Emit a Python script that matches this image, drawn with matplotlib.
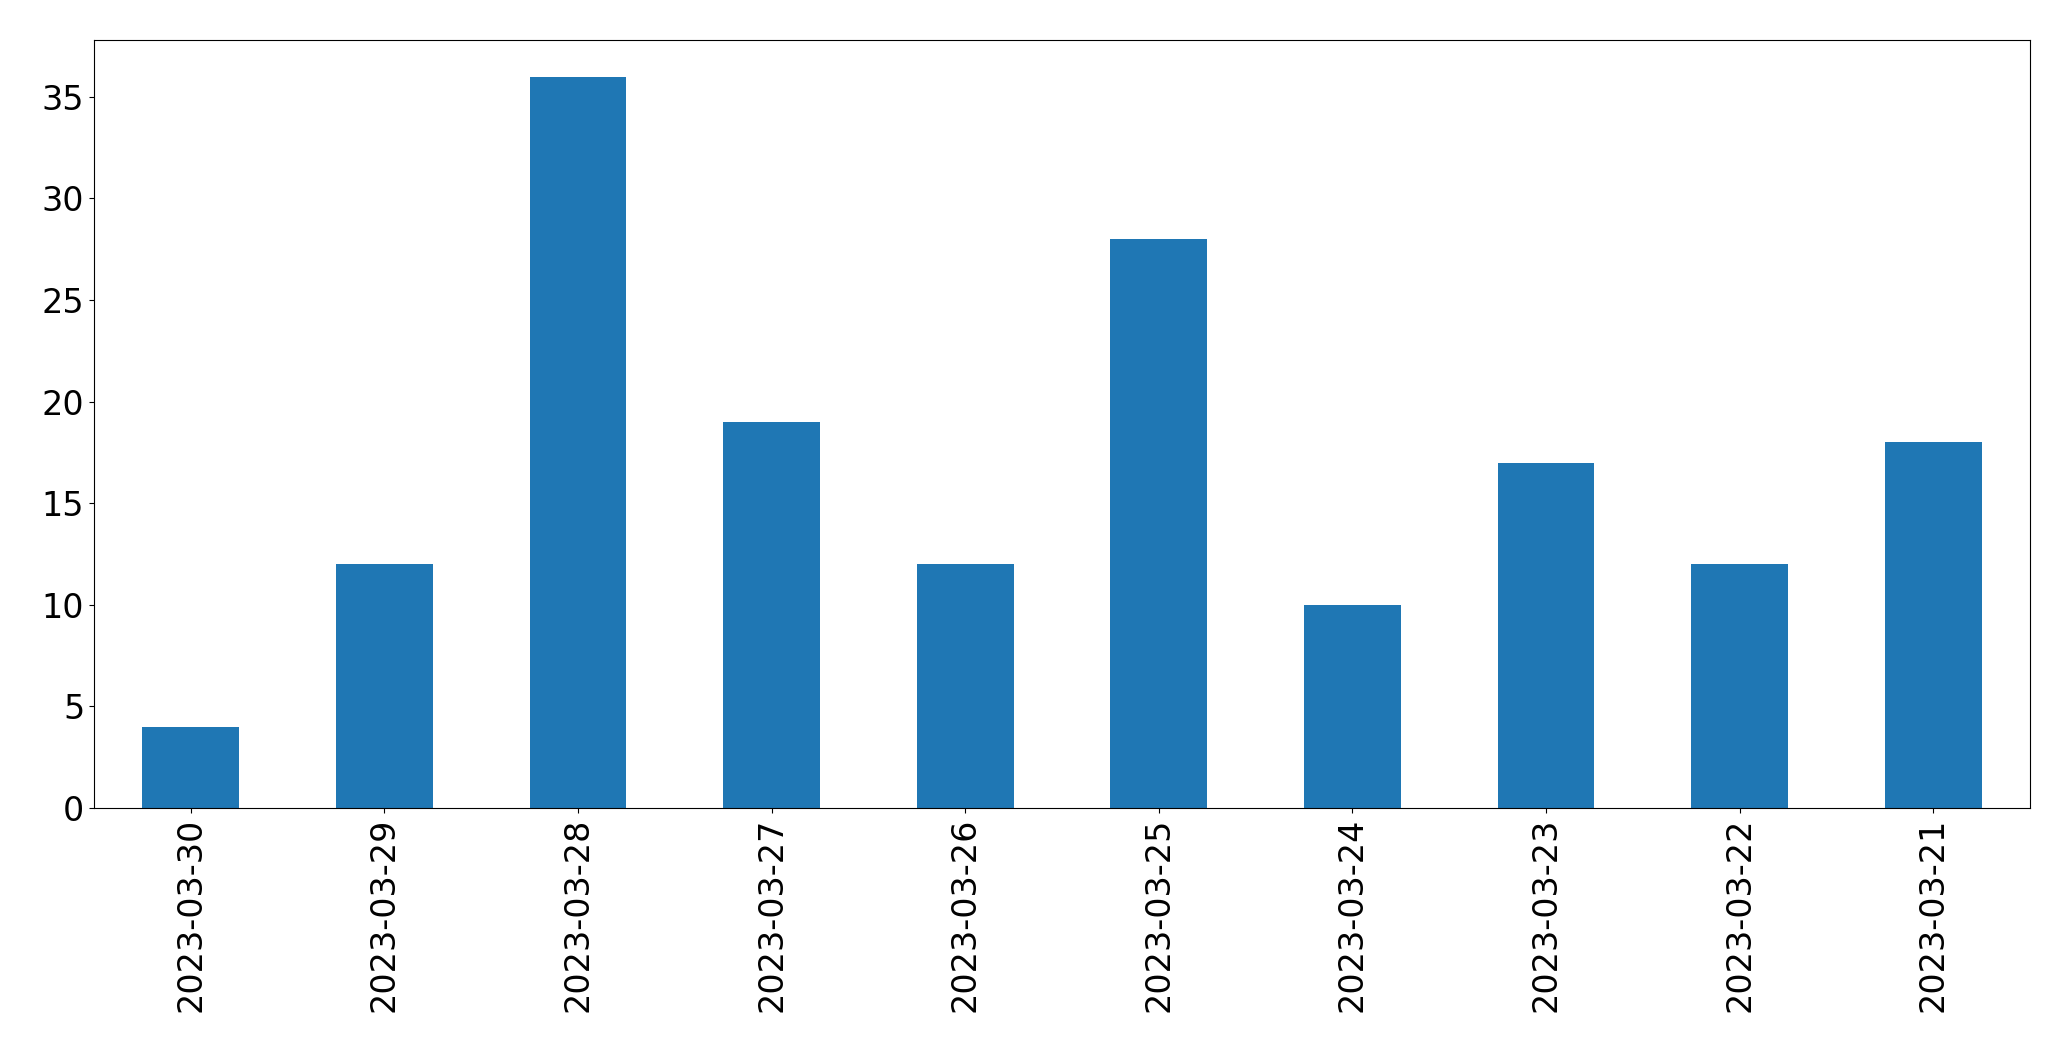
import numpy as np
import matplotlib
matplotlib.use('Agg')
import matplotlib.pyplot as plt

dates = ['2023-03-30', '2023-03-29', '2023-03-28', '2023-03-27', '2023-03-26',
         '2023-03-25', '2023-03-24', '2023-03-23', '2023-03-22', '2023-03-21']
counts = [4, 12, 36, 19, 12, 28, 10, 17, 12, 18]

fig = plt.figure(figsize=(20.71, 10.61), dpi=100)
ax = fig.add_axes([94 / 2071, 1 - 808 / 1061, (2030 - 94) / 2071, (808 - 40) / 1061])

x = np.arange(len(dates))
ax.bar(x, counts, width=0.5, color='#1f77b4')
ax.set_xlim(-0.5, len(dates) - 0.5)
ax.set_ylim(0, max(counts) * 1.05)
ax.set_xticks(x)
ax.set_xticklabels(dates, rotation=90)
ax.tick_params(labelsize=24)

fig.savefig('out.png', dpi=100)
